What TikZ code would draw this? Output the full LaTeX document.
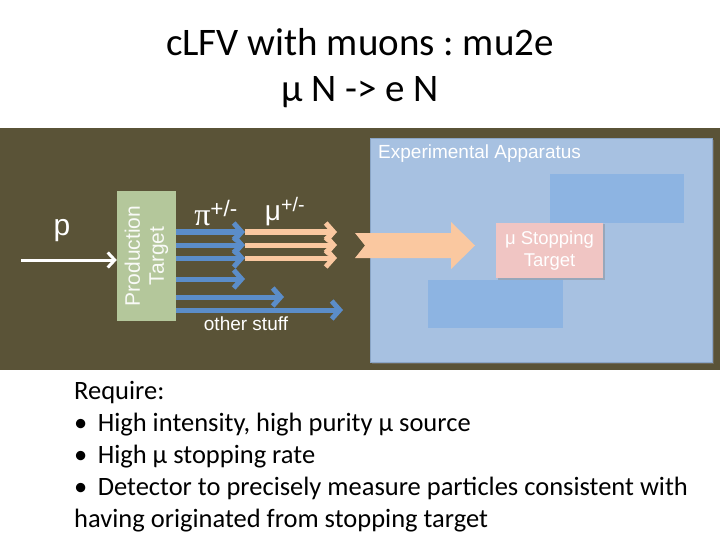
\documentclass[tikz,border=0pt]{standalone}
\usepackage{fontspec}
\setmainfont{Carlito}
\newfontfamily\diagfont{Liberation Sans}
\newfontfamily\greekfont{Liberation Serif}
\usetikzlibrary{arrows.meta,positioning,shadows}

\definecolor{panelbg}{HTML}{5A5337}
\definecolor{appfill}{HTML}{A7C1E1}
\definecolor{appline}{HTML}{8AA5C6}
\definecolor{detfill}{HTML}{8DB4E2}
\definecolor{stopfill}{HTML}{F0C5C3}
\definecolor{prodfill}{HTML}{B4C79B}
\definecolor{pionblue}{HTML}{5B8DC9}
\definecolor{muorange}{HTML}{FAC8A0}

\begin{document}
\frenchspacing
\begin{tikzpicture}[x=1pt,y=-1pt,
    box/.style={rectangle, inner sep=0pt},
    diag/.style={text=white, font=\diagfont\fontsize{19}{22}\selectfont},
    pionline/.style={draw=pionblue, line width=5pt, -{Straight Barb[length=8pt,width=18pt]}},
    muonline/.style={draw=muorange, line width=5pt, -{Straight Barb[length=8pt,width=18pt]}},
    beamline/.style={draw=white, line width=3pt, -{Straight Barb[length=7pt,width=15pt]}}]
\useasboundingbox (0,0) rectangle (720,540);

% title
\node[font=\fontsize{39}{46}\selectfont, align=center] (title) at (360,68) {cLFV with muons : mu2e\\ μ N -> e N};

% dark panel with the apparatus
\fill[panelbg] (0,128) rectangle (720,370);
\node[box, draw=appline, fill=appfill, minimum width=342pt, minimum height=224pt,
  drop shadow={shadow xshift=2pt, shadow yshift=-2pt, opacity=.5}] (app) at (541,250) {};
\node[diag, anchor=north west, inner sep=0pt] (applabel) at (378,145) {Experimental Apparatus};
\node[box, fill=detfill, minimum width=134pt, minimum height=49pt] (det1) at (617,198.5) {};
\node[box, fill=detfill, minimum width=135pt, minimum height=48pt] (det2) at (495.5,304) {};
\node[box, fill=stopfill, minimum width=107pt, minimum height=55pt, align=center, diag,
  font=\diagfont\fontsize{18.5}{22}\selectfont,
  drop shadow={shadow xshift=1.5pt, shadow yshift=-1.5pt, opacity=.4}] (stop) at (549.5,250.5) {μ Stopping\\Target};

% production target and beam
\node[box, fill=prodfill, minimum width=59pt, minimum height=130pt] (prod) at (146.5,256) {};
\node[diag, rotate=90, align=center, text=white!92!prodfill,
  font=\diagfont\fontsize{21}{24}\selectfont] (prodlabel) at (prod.center) {Production\\Target};
\coordinate (pin) at (21,260);
\draw[beamline] (pin) -- (prod.west |- pin);
\node[diag, font=\diagfont\fontsize{30}{32}\selectfont] (plabel) at (62,231) {p};

% pions, muons and other stuff
\foreach \y/\e [count=\i] in {232/245, 245/245, 258/245, 279/245, 297/284, 310/343} {
  \coordinate (pis\i) at (prod.east |- 0,\y);
  \coordinate (pie\i) at (\e,\y);
  \draw[pionline] (pis\i) -- (pie\i);
}
\foreach \i in {1,2,3} {
  \coordinate (mue\i) at (337,0 |- pie\i);
  \draw[muonline] (pie\i) -- (mue\i);
}
\node[diag, font=\greekfont\fontsize{32}{34}\selectfont] (pilabel) at (216,213) {π\textsuperscript{\diagfont +/-}};
\node[diag, font=\diagfont\fontsize{28}{32}\selectfont] (mulabel) at (285,212) {μ\textsuperscript{+/-}};
\node[diag] (otherlabel) at (246,324) {other stuff};

% big arrow into the apparatus
\fill[muorange] (355,233) -- (451,233) -- (451,222) -- (475,245.5) -- (451,269)
  -- (451,258) -- (355,258) -- (365,245.5) -- cycle;

% requirements
\node[anchor=north west, inner sep=0pt, align=left, font=\fontsize{26.5}{32}\selectfont] (req) at (74,381)
  {Require:\\
   • \,High intensity, high purity μ source\\
   • \,High μ stopping rate\\
   • \,Detector to precisely measure particles consistent with\\
   having originated from stopping target};
\end{tikzpicture}
\end{document}
